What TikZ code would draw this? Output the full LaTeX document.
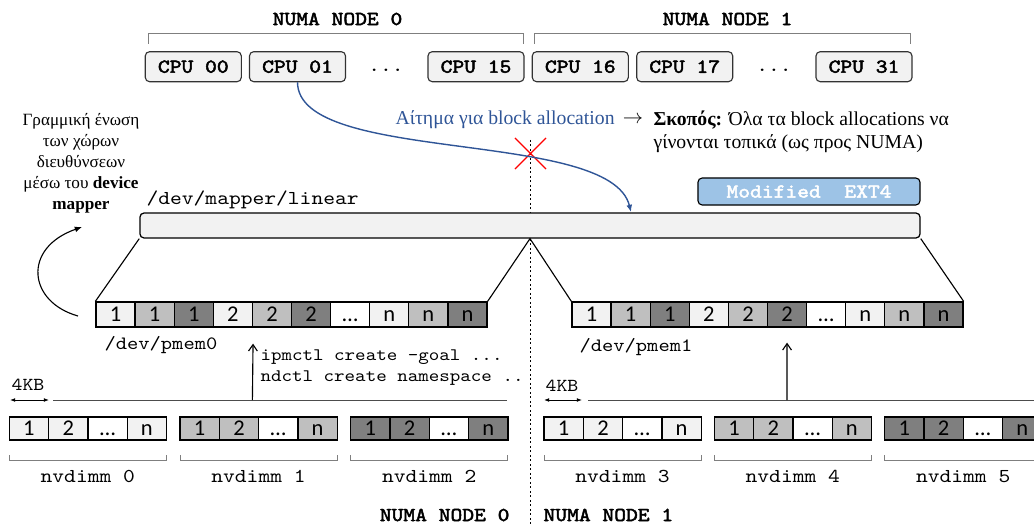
\documentclass[tikz,border=0pt]{standalone}
\usepackage{fontspec}
\setmainfont{Liberation Serif}
\newfontfamily\codefont{lmmono10-regular.otf}[FakeStretch=1.14]
\newfontfamily\codebold{lmmono10-regular.otf}[FakeStretch=1.14,FakeBold=2.5]
\newfontfamily\cellfont{Carlito}
\usetikzlibrary{arrows.meta,positioning,shapes.misc,calc}
\definecolor{cellA}{HTML}{F2F2F2}
\definecolor{cellB}{HTML}{BFBFBF}
\definecolor{cellC}{HTML}{7F7F7F}
\definecolor{reqblue}{HTML}{2F5597}
\definecolor{extblue}{HTML}{9DC3E6}
\definecolor{brkgray}{HTML}{7F7F7F}

\begin{document}
\begin{tikzpicture}[x=0.025cm,y=-0.025cm,line width=0.8pt,
  cpu/.style={draw=black!80,fill=cellA,rounded corners=3pt,minimum width=2.4cm,
    minimum height=0.75cm,inner sep=0pt,font=\fontsize{14}{16}\selectfont\codebold},
  numa/.style={font=\fontsize{14}{16}\selectfont\codebold,inner sep=0pt},
  mono/.style={font=\fontsize{14}{16}\selectfont\codefont,inner sep=0pt},
  cell/.style={draw,line width=0.9pt,minimum width=0.9775cm,minimum height=0.625cm,
    inner sep=0pt,text height=10.1pt,text depth=0pt,font=\fontsize{16}{16}\selectfont\cellfont},
  dcell/.style={cell,minimum width=0.9825cm,minimum height=0.575cm},
  brk/.style={draw=brkgray,line width=0.7pt},
  arr/.style={-{Latex[length=1.8mm,width=1.5mm]}},
  uparr/.style={-{Straight Barb[length=1.6mm,width=2.2mm]}}
]
  \clip (0,0) rectangle (1034,525);

  % CPUs of the two NUMA nodes
  \node[numa] (numa0) at (337.5,19) {NUMA NODE 0};
  \node[numa] (numa1) at (727.5,19) {NUMA NODE 1};
  \draw[brk] (148,44) |- (523.5,33.5) -- (523.5,44);
  \draw[brk] (534,44) |- (910,33.5) -- (910,44);
  \node[cpu] (cpu00) at (193.3,66.7) {CPU 00};
  \node[cpu] (cpu01) at (297.5,66.7) {CPU 01};
  \node[mono] at (386,70) {...};
  \node[cpu] (cpu15) at (476,66.7) {CPU 15};
  \node[cpu] (cpu16) at (580.3,66.7) {CPU 16};
  \node[cpu] (cpu17) at (684.7,66.7) {CPU 17};
  \node[mono] at (774,70) {...};
  \node[cpu] (cpu31) at (864,66.7) {CPU 31};

  % split between the nodes
  \draw[line width=1.4pt,dash pattern=on 1.4pt off 1.8pt] (530.5,140) -- (530.5,525);

  % request and goal
  \node[anchor=west,inner sep=0pt,text=reqblue,font=\fontsize{14}{16}\selectfont]
    (req) at (395,120) {Αίτημα για block allocation};
  \node[right=5pt of req,inner sep=0pt,font=\fontsize{14}{16}\selectfont] (to) {$\rightarrow$};
  \node[anchor=west,inner sep=0pt,align=left,font=\fontsize{14}{16.4}\selectfont]
    (goal) at (653,131.5) {\textbf{Σκοπός:} Όλα τα block allocations να\\γίνονται τοπικά (ως προς NUMA)};
  \node[cross out,draw=red,line width=0.8pt,minimum size=0.75cm,inner sep=0pt] (block) at (530.5,153.5) {};
  \coordinate (alloc) at (631,212);
  \draw[arr,reqblue,line width=1pt] (cpu01.south) .. controls (298,165) and (610,128) .. (alloc);

  % linear device
  \node[align=center,inner sep=0pt,font=\fontsize{12.2}{15}\selectfont] (dmtext) at (81,163)
    {Γραμμική ένωση\\των χώρων\\διευθύνσεων\\μέσω του \textbf{device}\\\textbf{mapper}};
  \node[mono,anchor=west] (lintext) at (146,200) {/dev/mapper/linear};
  \node[draw,fill=extblue,rounded corners=3pt,minimum width=5.55cm,minimum height=0.675cm,
    inner sep=0pt,text=white,font=\fontsize{14}{16}\selectfont\codebold]
    (ext4) at (809,191.5) {Modified\ \ EXT4};
  \node[draw,fill=cellA,rounded corners=3pt,line width=0.9pt,minimum width=19.5cm,
    minimum height=0.625cm,inner sep=0pt] (linear) at (530,225.5) {};

  % pmem devices
  \foreach \b/\bx in {a/96,b/572}{
    \foreach \lab/\f [count=\k] in {1/cellA,1/cellB,1/cellC,2/cellA,2/cellB,2/cellC,…/white,n/cellA,n/cellB,n/cellC}
      \node[cell,fill=\f] (p\b\k) at ({\bx+39.1*\k-19.55},314.5) {\lab};
  }
  \draw (linear.south west) -- (pa1.north west);
  \draw (pa10.north east) -- (linear.south) -- (pb1.north west);
  \draw (linear.south east) -- (pb10.north east);
  \node[mono,anchor=west,font=\fontsize{13.4}{16}\selectfont\codefont] (pmem0) at (104,345) {/dev/pmem0};
  \node[mono,anchor=west,font=\fontsize{13.4}{16}\selectfont\codefont] (pmem1) at (579,347) {/dev/pmem1};

  \coordinate (dmA) at (78,316);
  \coordinate (dmB) at (82,227);
  \draw[arr] (dmA) .. controls (28,302) and (22,248) .. (dmB);

  % namespaces
  \node[anchor=west,inner sep=0pt,align=left,font=\fontsize{12.5}{15}\selectfont\codefont]
    (cmd) at (260,367.5) {ipmctl create -goal ...\\ndctl create namespace ..};
  \draw[black!70,line width=0.7pt] (53,400) -- (507,400);
  \draw[black!70,line width=0.7pt] (588,400) -- (1034,400);
  \coordinate (cmd0) at (252.4,400);
  \coordinate (cmd1) at (787,400);
  \draw[uparr] (cmd0) -- ($(pa4.south east)+(0,16)$);
  \draw[uparr] (cmd1) -- ($(pb6.south)+(0,15)$);
  \node[mono,font=\fontsize{13}{16}\selectfont\codefont] (kb0) at (28,385) {4KB};
  \node[mono,font=\fontsize{13}{16}\selectfont\codefont] (kb1) at (562,386) {4KB};
  \draw[{Latex[length=1.3mm]}-{Latex[length=1.3mm]},line width=0.7pt] (10,400) -- (49,400);
  \draw[{Latex[length=1.3mm]}-{Latex[length=1.3mm]},line width=0.7pt] (544,400) -- (582,400);

  % nvdimms
  \foreach \g/\gx/\col in {0/9.3/cellA,1/180/cellB,2/350.7/cellC,3/544/cellA,4/714.3/cellB,5/884.7/cellC}{
    \foreach \lab/\f [count=\k] in {1/\col,2/\col,…/white,n/\col}
      \node[dcell,fill=\f] (d\g-\k) at ({\gx+39.3*\k-19.65},428.5) {\lab};
    \draw[brk] (\gx,455) |- ({\gx+157},460) -- ({\gx+157},455);
    \node[mono] (nv\g) at ({\gx+78.5},476.7) {nvdimm \g};
  }
  \node[numa,anchor=east] (numa0b) at (510,515) {NUMA NODE 0};
  \node[numa,anchor=west] (numa1b) at (543,515) {NUMA NODE 1};
\end{tikzpicture}
\end{document}
